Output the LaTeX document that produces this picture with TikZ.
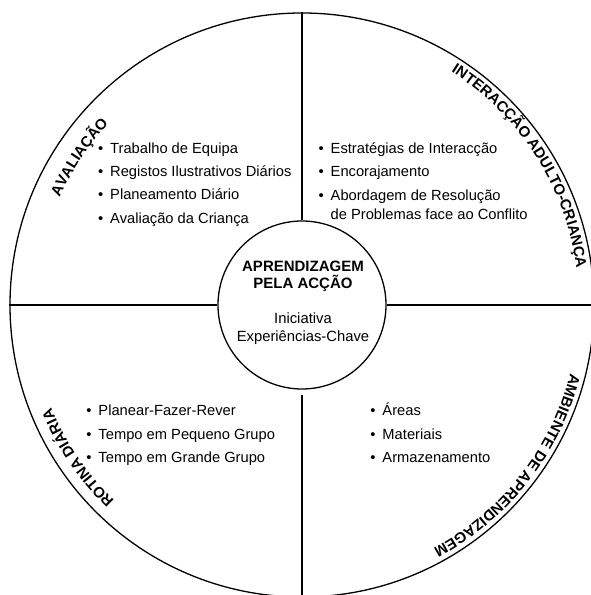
\documentclass[tikz,border=0pt]{standalone}
\usepackage{fontspec}
\setmainfont{Liberation Sans}
\usetikzlibrary{decorations.text}
\newcommand{\itm}[1]{\llap{•\hspace{7pt}}#1}
\newcommand{\lblfont}{\fontsize{15}{16}\selectfont\bfseries}
\tikzset{
  ring/.style={circle, draw, line width=1.3pt, inner sep=0pt},
  divider/.style={line width=1.3pt},
  itemtext/.style={anchor=base west, inner sep=0pt, font=\fontsize{14.7}{18}\selectfont},
  centerbold/.style={anchor=base, inner sep=0pt, font=\fontsize{15}{18}\selectfont\bfseries},
  centertext/.style={anchor=base, inner sep=0pt, font=\fontsize{14.8}{18}\selectfont},
  arclabel/.style={font=\lblfont, decorate, decoration={text along path, text align={center},
      text={|\lblfont|#1}}}
}
\begin{document}
\begin{tikzpicture}[x=1pt,y=1pt]
\useasboundingbox (0,0) rectangle (591,595);
% circles
\node[ring, minimum size=584pt] (O) at (302,290) {};
\node[ring, minimum size=168pt] (I) at (302,290) {};
% dividers
\draw[divider] (O.north) -- (I.north);
\draw[divider, shorten >=5pt] (O.south) -- (I.south);
\draw[divider] (O.west) -- (I.west);
\draw[divider] (O.east) -- (I.east);
% centre
\node[centerbold] (c1) at (303,323) {APRENDIZAGEM};
\node[centerbold] (c2) at (303,306.5) {PELA ACÇÃO};
\node[centertext] (c3) at (303,271) {Iniciativa};
\node[centertext] (c4) at (303,253) {Experiências-Chave};
% top left
\node[itemtext] (tl1) at (110,441.7) {\itm{Trabalho de Equipa}};
\node[itemtext] (tl2) at (110,418.4) {\itm{Registos Ilustrativos Diários}};
\node[itemtext] (tl3) at (110,395) {\itm{Planeamento Diário}};
\node[itemtext] (tl4) at (110,371.7) {\itm{Avaliação da Criança}};
% top right
\node[itemtext] (tr1) at (330.5,441.7) {\itm{Estratégias de Interacção}};
\node[itemtext] (tr2) at (330.5,418.3) {\itm{Encorajamento}};
\node[itemtext] (tr3) at (330.5,394) {\itm{Abordagem de Resolução}};
\node[itemtext] (tr4) at (330.5,375) {de Problemas face ao Conflito};
% bottom left
\node[itemtext] (bl1) at (98.3,179) {\itm{Planear-Fazer-Rever}};
\node[itemtext] (bl2) at (98.3,155.7) {\itm{Tempo em Pequeno Grupo}};
\node[itemtext] (bl3) at (98.3,132.3) {\itm{Tempo em Grande Grupo}};
% bottom right
\node[itemtext] (br1) at (382.3,179) {\itm{Áreas}};
\node[itemtext] (br2) at (382.3,155.7) {\itm{Materiais}};
\node[itemtext] (br3) at (382.3,132.3) {\itm{Armazenamento}};
% arc labels
\path[arclabel={AVALIAÇÃO}] (O.center) ++(156.5:265) arc[start angle=156.5, end angle=136.5, radius=265];
\path[arclabel={INTERACÇÃO ADULTO-CRIANÇA}] (O.center) ++(56.5:277) arc[start angle=56.5, end angle=8.5, radius=277];
\path[arclabel={ROTINA DIÁRIA}] (O.center) ++(226:271) arc[start angle=226, end angle=202.5, radius=271];
\path[arclabel={AMBIENTE DE APRENDIZAGEM}] (O.center) ++(-14:277) arc[start angle=-14, end angle=-62, radius=277];
\end{tikzpicture}
\end{document}
